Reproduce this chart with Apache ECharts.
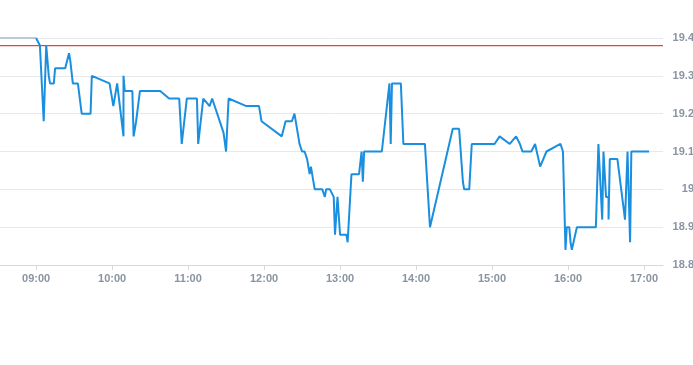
<!DOCTYPE html>
<html>
<head>
<meta charset="utf-8">
<script src="https://cdn.jsdelivr.net/npm/echarts@6/dist/echarts.min.js"></script>
<style>
html,body{margin:0;padding:0;background:#fff;}
#chart{width:693px;height:365px;}
</style>
</head>
<body>
<div id="chart"></div>
<script>
// Intraday price data
const times = ["09:00","09:03","09:06","09:08","09:10","09:11","09:14","09:15","09:23","09:26","09:27","09:29","09:33","09:36","09:43","09:44","09:58","10:01","10:04","10:09","10:09","10:10","10:16","10:17","10:19","10:20","10:22","10:38","10:45","10:53","10:55","10:59","11:07","11:08","11:12","11:17","11:19","11:28","11:30","11:32","11:46","11:56","11:58","12:14","12:17","12:22","12:24","12:28","12:30","12:32","12:34","12:36","12:37","12:40","12:46","12:48","12:49","12:52","12:55","12:56","12:58","12:58","13:00","13:05","13:06","13:09","13:15","13:17","13:18","13:19","13:33","13:39","13:40","13:41","13:48","13:50","14:07","14:11","14:29","14:34","14:37","14:38","14:42","14:44","15:02","15:06","15:14","15:19","15:22","15:24","15:31","15:34","15:38","15:43","15:54","15:56","15:58","15:59","16:01","16:02","16:03","16:07","16:22","16:24","16:27","16:28","16:30","16:32","16:32","16:33","16:39","16:45","16:47","16:49","16:50","17:04"];
const prices = [19.40,19.38,19.18,19.38,19.30,19.28,19.28,19.32,19.32,19.36,19.34,19.28,19.28,19.20,19.20,19.30,19.28,19.22,19.28,19.14,19.30,19.26,19.26,19.14,19.18,19.18,19.26,19.26,19.24,19.24,19.12,19.24,19.24,19.12,19.24,19.22,19.24,19.15,19.10,19.24,19.22,19.22,19.18,19.14,19.18,19.18,19.20,19.12,19.10,19.10,19.08,19.04,19.06,19.00,19.00,18.98,19.00,19.00,18.98,18.88,18.98,18.98,18.88,18.88,18.86,19.04,19.04,19.10,19.02,19.10,19.10,19.28,19.12,19.28,19.28,19.12,19.12,18.90,19.16,19.16,19.02,19.00,19.00,19.12,19.12,19.14,19.12,19.14,19.12,19.10,19.10,19.12,19.06,19.10,19.12,19.10,18.84,18.90,18.90,18.86,18.84,18.90,18.90,19.12,18.92,19.10,18.98,18.98,18.92,19.08,19.08,18.92,19.10,18.86,19.10,19.10];
const preTimes = ["08:30","09:00"];
const prePrices = [19.40,19.40];
const prevClose = 19.38;
const hourTicks = ["09:00","10:00","11:00","12:00","13:00","14:00","15:00","16:00","17:00"];
const yMin = 18.8, yMax = 19.4, yStep = 0.1;
const xMin = 511.5, xMax = 1035; // axis range in minutes after midnight

function toMin(s){const p=s.split(":");return (+p[0])*60+(+p[1]);}
function fmt(m){const h=Math.floor(m/60),mm=Math.round(m-h*60);return String(h).padStart(2,"0")+":"+String(mm).padStart(2,"0");}

const mainData = times.map((t,i)=>[toMin(t),prices[i]]);
const preData = preTimes.map((t,i)=>[toMin(t),prePrices[i]]);
const closeData = [[xMin,prevClose],[xMax,prevClose]];
const tickVals = hourTicks.map(toMin);

const chart = echarts.init(document.getElementById('chart'), null, {renderer:'canvas'});
const labelFont = '"Liberation Sans", Arial, sans-serif';
chart.setOption({
  animation:false,
  backgroundColor:'#fff',
  grid:{left:0,right:30,top:38,bottom:100,containLabel:false,outerBoundsMode:'none'},
  xAxis:{
    type:'value',
    min:xMin, max:xMax,
    axisLine:{show:true,lineStyle:{color:'#d5d8dd',width:1}},
    axisTick:{show:true,customValues:tickVals,length:5,lineStyle:{color:'#d5d8dd'}},
    axisLabel:{customValues:tickVals,formatter:v=>fmt(v),color:'#8a94a3',fontSize:11,fontWeight:'bold',fontFamily:labelFont,margin:8},
    splitLine:{show:false}
  },
  yAxis:{
    type:'value',
    position:'right',
    min:yMin,max:yMax,interval:yStep,
    axisLine:{show:false},
    axisTick:{show:false},
    axisLabel:{color:'#8a94a3',fontSize:11,fontWeight:'bold',fontFamily:labelFont,align:'right',margin:31,
      formatter:v=>String(Math.round(v*10)/10)},
    splitLine:{show:true,lineStyle:{color:'#e6e8eb',width:1}}
  },
  series:[
    {type:'line',data:closeData,showSymbol:false,silent:true,lineStyle:{color:'#e0483e',width:1.3},itemStyle:{color:'#e0483e'},z:1},
    {type:'line',data:preData,showSymbol:false,lineStyle:{color:'#bccad8',width:2},itemStyle:{color:'#bccad8'},z:2},
    {type:'line',data:mainData,showSymbol:false,lineStyle:{color:'#1b8fdf',width:2},itemStyle:{color:'#1b8fdf'},z:3}
  ]
});
</script>
</body>
</html>
